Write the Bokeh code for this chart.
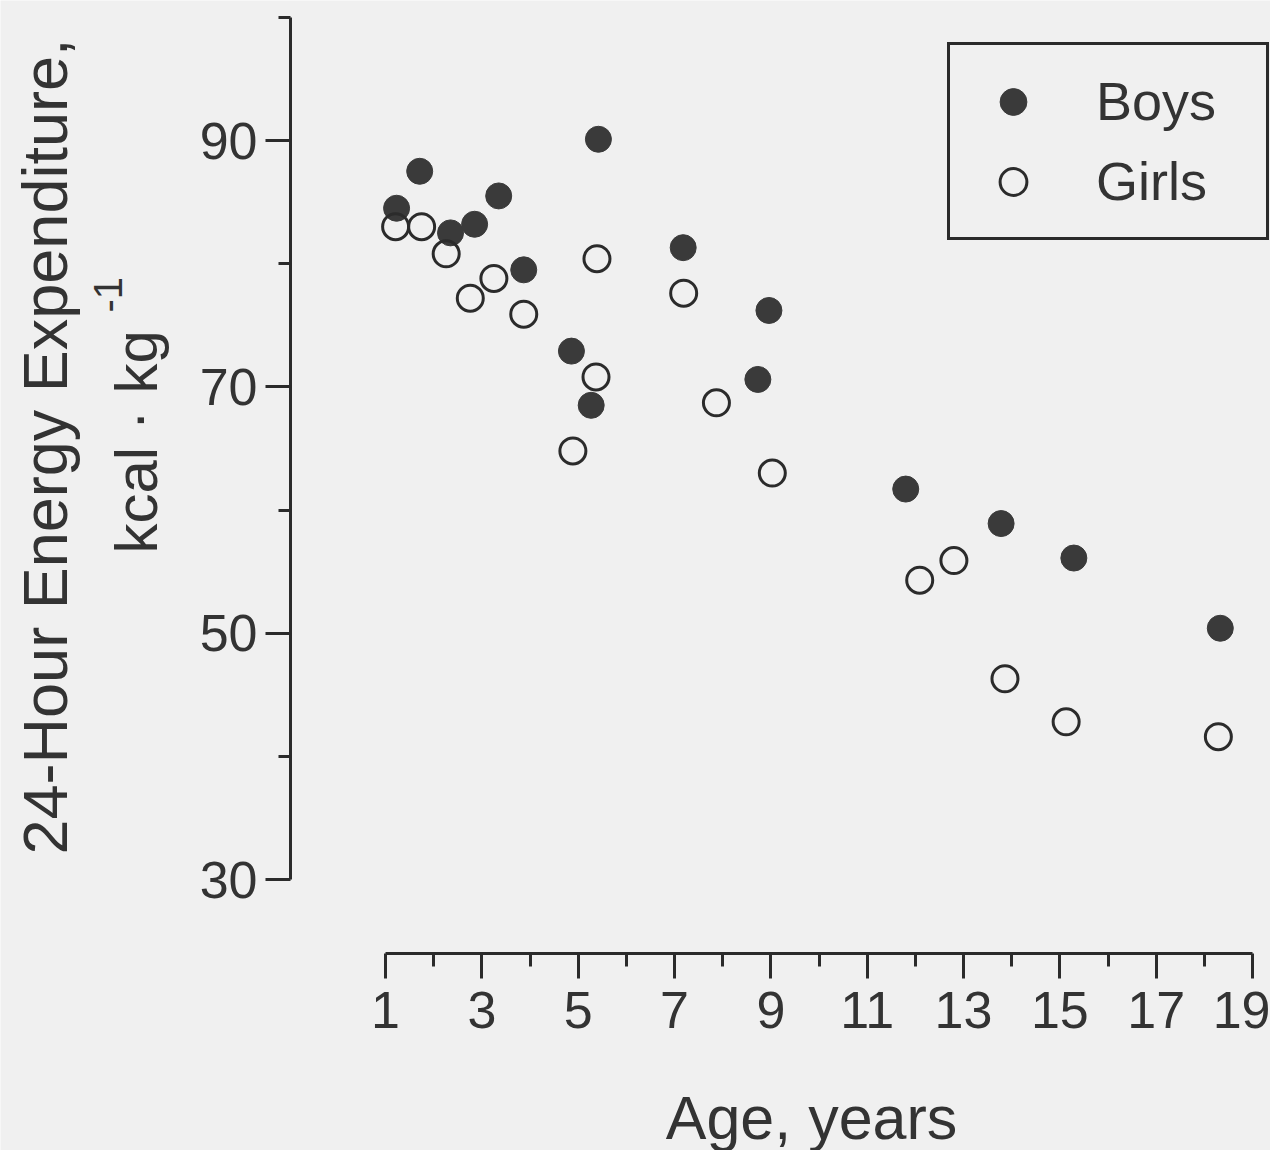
from bokeh.plotting import figure
from bokeh.models import Range1d, LinearAxis, FixedTicker, Legend, LegendItem, Label
from bokeh.embed import file_html
from bokeh.resources import INLINE

# ---- data ----
boys_age = [1.23, 1.71, 2.35, 2.85, 3.35, 3.87, 4.86, 5.27, 5.42, 7.18, 8.73, 8.96, 11.80, 13.78, 15.29, 18.33]
boys_ee = [84.5, 87.5, 82.5, 83.2, 85.5, 79.5, 72.9, 68.5, 90.1, 81.3, 70.6, 76.2, 61.7, 58.9, 56.1, 50.4]
girls_age = [1.21, 1.75, 2.26, 2.76, 3.25, 3.87, 4.89, 5.37, 5.39, 7.19, 7.87, 9.03, 12.09, 12.80, 13.86, 15.13, 18.29]
girls_ee = [83.0, 83.0, 80.8, 77.2, 78.8, 75.9, 64.8, 70.8, 80.4, 77.6, 68.7, 63.0, 54.3, 55.9, 46.3, 42.8, 41.6]

x_major = [1, 3, 5, 7, 9, 11, 13, 15, 17, 19]
x_minor = [2, 4, 6, 8, 10, 12, 14, 16, 18]
y_major = [30, 50, 70, 90]
y_minor = [40, 60, 80, 100]

x_title = "Age, years"
y_title1 = "24-Hour Energy Expenditure,"
y_title2 = "kcal · kg"
y_title2_sup = "-1"

# ---- layout: the frame covers the whole canvas, axes sit at fixed places ----
W, H = 1270, 1150
XPX = 48.17           # px per year
YPX = 12.317          # px per kcal/kg
X0 = 1 - 385 / XPX
X1 = X0 + W / XPX
Y1 = 90 + 140 / YPX
Y0 = Y1 - H / YPX

def fx(cx):
    return X0 + cx / XPX

def fy(cy):
    return Y1 - cy / YPX

BG = "#f0f0f0"
INK = "#2b2b2b"
TXT = "#333333"
FONT = "'Liberation Sans', Arial, sans-serif"

p = figure(width=W, height=H, output_backend="svg", toolbar_location=None,
           x_range=Range1d(X0, X1), y_range=Range1d(Y0, Y1),
           x_axis_location=None, y_axis_location=None,
           min_border=0, min_border_left=0, min_border_right=0,
           min_border_top=0, min_border_bottom=0)
p.outline_line_color = None
p.background_fill_color = BG
p.border_fill_color = BG
p.grid.grid_line_color = None

# y axis
ya = LinearAxis(bounds=(30, 100), fixed_location=fx(290),
                ticker=FixedTicker(ticks=y_major, minor_ticks=y_minor))
ya.axis_line_color = INK
ya.axis_line_width = 3
ya.major_tick_line_color = INK
ya.major_tick_line_width = 3
ya.minor_tick_line_color = INK
ya.minor_tick_line_width = 3
ya.major_tick_in = 0
ya.major_tick_out = 25
ya.minor_tick_in = 0
ya.minor_tick_out = 12
ya.major_label_standoff = 8
ya.major_label_text_font = FONT
ya.major_label_text_font_size = "52px"
ya.major_label_text_color = TXT
p.add_layout(ya, "left")

# x axis
xa = LinearAxis(bounds=(1, 19), fixed_location=fy(953),
                ticker=FixedTicker(ticks=x_major, minor_ticks=x_minor))
xa.axis_line_color = INK
xa.axis_line_width = 3
xa.major_tick_line_color = INK
xa.major_tick_line_width = 3
xa.minor_tick_line_color = INK
xa.minor_tick_line_width = 3
xa.major_tick_in = 0
xa.major_tick_out = 25
xa.minor_tick_in = 0
xa.minor_tick_out = 13
xa.major_label_standoff = 13
xa.major_label_text_font = FONT
xa.major_label_text_font_size = "52px"
xa.major_label_text_color = TXT
p.add_layout(xa, "below")

rb = p.scatter(boys_age, boys_ee, marker="circle", size=26,
               fill_color="#3a3a3a", line_color="#3a3a3a", line_width=1)
rg = p.scatter(girls_age, girls_ee, marker="circle", size=26,
               fill_color=None, line_color=INK, line_width=3)

legend = Legend(items=[LegendItem(label="Boys", renderers=[rb]),
                       LegendItem(label="Girls", renderers=[rg])],
                location=(947, H - 240))
legend.padding = 16
legend.spacing = 0
legend.margin = 0
legend.glyph_width = 94
legend.glyph_height = 67
legend.label_height = 80
legend.label_width = 154
legend.label_standoff = 36
legend.label_text_font = FONT
legend.label_text_font_size = "54px"
legend.label_text_color = TXT
legend.border_line_color = INK
legend.border_line_width = 3
legend.border_line_alpha = 1.0
legend.background_fill_color = BG
legend.background_fill_alpha = 1.0
p.add_layout(legend)

# titles (anchored at the middle of the text line)
p.add_layout(Label(x=fx(44), y=fy(446), text=y_title1, angle=90, angle_units="deg",
                   text_align="center", text_baseline="middle",
                   text_font=FONT, text_font_size="63px", text_color=TXT))
p.add_layout(Label(x=fx(136), y=fy(553), text=y_title2, angle=90, angle_units="deg",
                   text_align="left", text_baseline="middle",
                   text_font=FONT, text_font_size="60px", text_color=TXT))
p.add_layout(Label(x=fx(107), y=fy(312), text=y_title2_sup, angle=90, angle_units="deg",
                   text_align="left", text_baseline="middle",
                   text_font=FONT, text_font_size="40px", text_color=TXT))
p.add_layout(Label(x=fx(811), y=fy(1117), text=x_title,
                   text_align="center", text_baseline="middle",
                   text_font=FONT, text_font_size="61px", text_color=TXT))

open("out.html", "w").write(file_html(p, INLINE))
